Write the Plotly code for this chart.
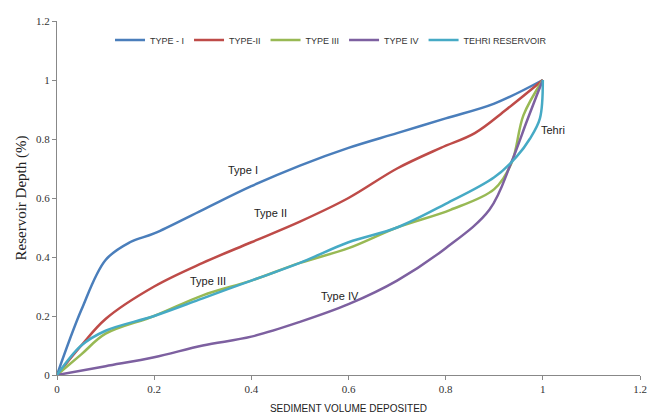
import plotly.graph_objects as go

type1_x = [0, 0.05, 0.1, 0.15, 0.2, 0.3, 0.4, 0.5, 0.6, 0.7, 0.8, 0.9, 1.0]
type1_y = [0, 0.22, 0.39, 0.45, 0.48, 0.56, 0.64, 0.71, 0.77, 0.82, 0.87, 0.92, 1.0]

type2_x = [0, 0.05, 0.1, 0.2, 0.3, 0.4, 0.5, 0.6, 0.7, 0.79, 0.86, 0.925, 1.0]
type2_y = [0, 0.1, 0.19, 0.3, 0.38, 0.45, 0.52, 0.6, 0.7, 0.77, 0.82, 0.9, 1.0]

type3_x = [0, 0.05, 0.1, 0.2, 0.3, 0.4, 0.5, 0.6, 0.7, 0.81, 0.9, 0.936, 0.96, 1.0]
type3_y = [0, 0.07, 0.14, 0.2, 0.27, 0.32, 0.38, 0.43, 0.5, 0.56, 0.63, 0.72, 0.88, 1.0]

type4_x = [0, 0.1, 0.2, 0.3, 0.4, 0.5, 0.6, 0.7, 0.8, 0.89, 0.935, 0.967, 0.988, 1.0]
type4_y = [0, 0.03, 0.06, 0.1, 0.13, 0.18, 0.24, 0.32, 0.43, 0.56, 0.72, 0.86, 0.95, 1.0]

tehri_x = [0, 0.05, 0.1, 0.2, 0.3, 0.4, 0.5, 0.6, 0.7, 0.8, 0.9, 0.946, 0.973, 0.994, 1.0]
tehri_y = [0, 0.1, 0.15, 0.2, 0.26, 0.32, 0.38, 0.45, 0.5, 0.58, 0.67, 0.74, 0.8, 0.87, 1.0]

series = [
    ("TYPE - I", type1_x, type1_y, "#4A7EBB"),
    ("TYPE-II", type2_x, type2_y, "#BE4B48"),
    ("TYPE III", type3_x, type3_y, "#98B954"),
    ("TYPE IV", type4_x, type4_y, "#7D60A0"),
    ("TEHRI RESERVOIR", tehri_x, tehri_y, "#46AAC5"),
]

labels_text = ["Type I", "Type II", "Type III", "Type IV", "Tehri"]
labels_x = [0.383, 0.44, 0.311, 0.582, 1.02]
labels_y = [0.695, 0.549, 0.319, 0.268, 0.83]

x_ticks = [0, 0.2, 0.4, 0.6, 0.8, 1, 1.2]
tick_text = ["0", "0.2", "0.4", "0.6", "0.8", "1", "1.2"]

fig = go.Figure()
for name, xs, ys, col in series:
    fig.add_trace(go.Scatter(x=xs, y=ys, name=name, mode="lines",
                             line=dict(color=col, width=2.5, shape="spline", smoothing=1.0)))

for t, x, y in zip(labels_text, labels_x, labels_y):
    fig.add_annotation(x=x, y=y, text=t, showarrow=False, xanchor="center",
                       font=dict(family="Liberation Sans Narrow, Arial Narrow, Liberation Sans", size=11, color="#222"))

axis_common = dict(showgrid=False, zeroline=False, showline=True, linecolor="#888", linewidth=1,
                   ticks="outside", ticklen=4, tickcolor="#888", automargin=False,
                   tickfont=dict(family="Liberation Serif, Times New Roman, serif", size=11, color="#333"),
                   range=[0, 1.2], tickvals=x_ticks, ticktext=tick_text)

fig.update_layout(
    width=648, height=417,
    margin=dict(l=57, r=8, t=21, b=42),
    paper_bgcolor="white", plot_bgcolor="white",
    xaxis=dict(**axis_common,
               title=dict(text="SEDIMENT VOLUME DEPOSITED", standoff=10,
                          font=dict(family="Liberation Sans Narrow, Liberation Sans", size=10, color="#222"))),
    yaxis=dict(**axis_common,
               title=dict(text="Reservoir Depth (%)", standoff=5,
                          font=dict(family="Liberation Serif, Times New Roman, serif", size=15, color="#222"))),
    legend=dict(orientation="h", x=0.47, y=0.946, xanchor="center", yanchor="middle",
                font=dict(family="Liberation Sans Narrow, Liberation Sans", size=9, color="#333"),
                itemwidth=30, bgcolor="rgba(0,0,0,0)"),
    showlegend=True,
)

fig.write_html("out.html")
